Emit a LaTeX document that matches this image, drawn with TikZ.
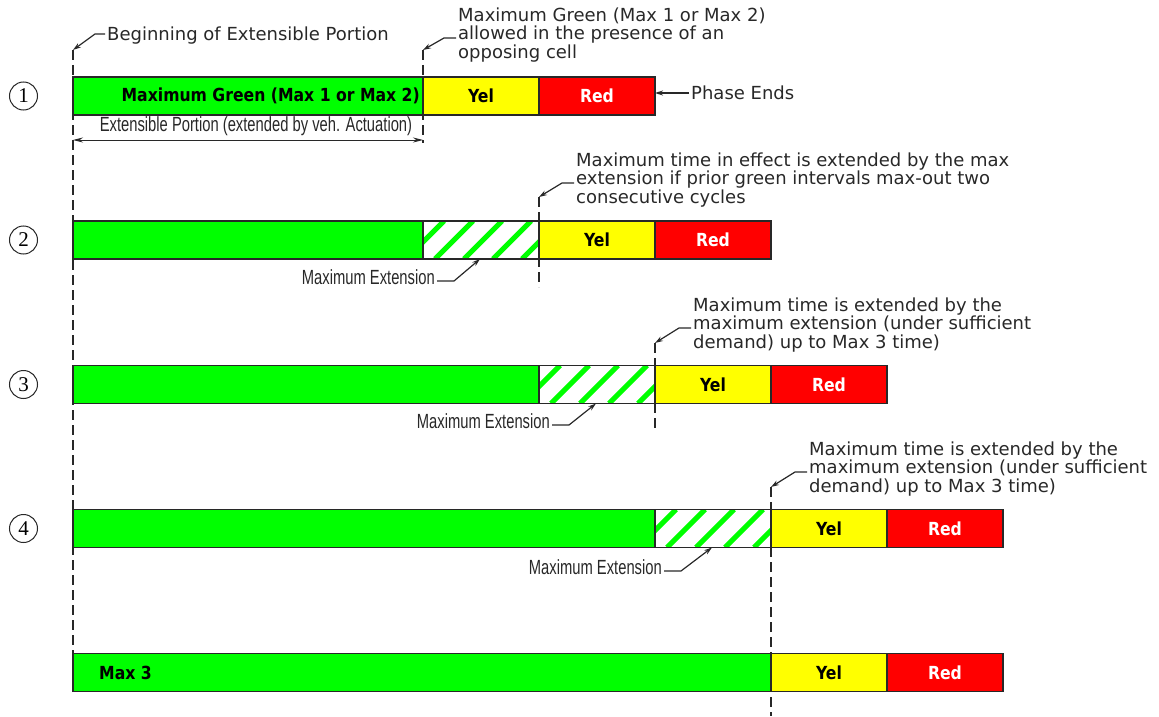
\documentclass[tikz,border=0pt]{standalone}
\usepackage{fontspec}
\usepackage{xcolor}
\usetikzlibrary{arrows.meta,positioning}
\newfontfamily\notefont{DejaVu Sans}
\newfontfamily\barfont{DejaVu Sans}[FakeStretch=0.87]
\newfontfamily\narrowfont{Liberation Sans}[FakeStretch=0.72]
\newfontfamily\numfont{Liberation Serif}
\definecolor{grn}{RGB}{0,255,0}
\definecolor{yel}{RGB}{255,255,0}
\definecolor{rd}{RGB}{255,0,0}
\definecolor{ink}{RGB}{40,40,40}

\begin{document}
\begin{tikzpicture}%
  [x=1pt,y=-1pt,
   seg/.style={rectangle,draw=ink,line width=1.3pt,minimum width=116pt,
     minimum height=38pt,inner sep=0,outer sep=0,anchor=north west,
     font=\barfont\bfseries\fontsize{18}{18}\selectfont}]
  \tikzstyle{grn seg}=[seg,fill=grn]
  \tikzstyle{yel seg}=[seg,fill=yel]
  \tikzstyle{red seg}=[seg,fill=rd,text=white]
  \tikzstyle{ext seg}=[seg,fill=white]
  \tikzstyle{bar txt}=[inner sep=0,font=\barfont\bfseries\fontsize{18}{18}\selectfont]
  \tikzstyle{num node}=[circle,draw=ink,line width=1pt,minimum size=28pt,inner sep=0,
    font=\numfont\fontsize{21}{21}\selectfont]
  \tikzstyle{note}=[text=ink,align=left,inner sep=2pt,font=\notefont\fontsize{18}{18.5}\selectfont]
  \tikzstyle{narrow note}=[text=ink,inner sep=2pt,font=\narrowfont\fontsize{20.5}{20.5}\selectfont]
  \tikzstyle{dash line}=[ink,line width=1.3pt,dash pattern=on 10pt off 5pt]
  \tikzstyle{leader}=[ink,line width=1.2pt,-{Stealth[length=8pt,width=5pt]}]
  \tikzstyle{hatch line}=[grn,line width=5pt]
  \useasboundingbox (0,0) rectangle (1159,717);

  \coordinate (d0) at (73,50);
  \coordinate (d1) at (423,50);
  \coordinate (d1end) at (423,143);
  \coordinate (d2) at (539,197);
  \coordinate (d2end) at (539,287);
  \coordinate (d3) at (655,343);
  \coordinate (d3end) at (655,428);
  \coordinate (d4) at (771,487);
  \coordinate (d4end) at (771,716);
  \draw[dash line] (d1) -- (d1end);
  \draw[dash line] (d2) -- (d2end);
  \draw[dash line] (d3) -- (d3end);
  \draw[dash line] (d4) -- (d4end);

  \node (g1)[grn seg,minimum width=350pt] at (73,77) {};
  \node (y1)[yel seg,right=0pt of g1] {Yel};
  \node (r1)[red seg,right=0pt of y1] {Red};
  \node (c1)[num node,left=35pt of g1] {1};
  \node (g1txt)[bar txt,anchor=east] at ([xshift=-3pt]g1.east) {Maximum Green (Max 1 or Max 2)};

  \foreach \r/\w/\yy in {2/350/221,3/466/365.5,4/582/509.5}{
    \node (g\r)[grn seg,minimum width=\w pt] at (73,\yy) {};
    \node (h\r)[ext seg,right=0pt of g\r] {};
    \begin{scope}
      \clip (h\r.south west) rectangle (h\r.north east);
      \foreach \k in {-1,...,3}
        \draw[hatch line] (h\r.south west) ++(12+29*\k,0) -- ++(38,-38);
    \end{scope}
    \draw[ink,line width=1.3pt] (h\r.south west) rectangle (h\r.north east);
    \node (y\r)[yel seg,right=0pt of h\r] {Yel};
    \node (r\r)[red seg,right=0pt of y\r] {Red};
    \node (c\r)[num node,left=35pt of g\r] {\r};
  }

  \node (g5)[grn seg,minimum width=698pt] at (73,653.5) {};
  \node (y5)[yel seg,right=0pt of g5] {Yel};
  \node (r5)[red seg,right=0pt of y5] {Red};
  \node (g5txt)[bar txt,anchor=west] at ([xshift=26pt]g5.west) {Max 3};
  \draw[dash line] (d0) -- (g5.north west);

  \node (beglbl)[note,anchor=west] at (105,36) {Beginning of Extensible Portion};
  \draw[leader] ([yshift=2pt]beglbl.west) -- ++(-10,0) -- (d0);
  \node (maxgrn)[note,anchor=west] at (456,35)
    {Maximum Green (Max 1 or Max 2)\\allowed in the presence of an\\opposing cell};
  \draw[leader] ([yshift=-3pt]maxgrn.west) -- ++(-12,0) -- (d1);
  \node (phase)[note,anchor=west] at (689,93) {Phase Ends};
  \draw[leader] (phase.west) -- (phase.west -| r1.east);

  \coordinate (ea) at (73,140);
  \coordinate (eb) at (423,140);
  \draw[ink,line width=1pt,{Stealth[length=10pt,width=5pt]}-{Stealth[length=10pt,width=5pt]}] (ea) -- (eb);
  \node (extlbl)[narrow note] at (256,126) {Extensible Portion (extended by veh. Actuation)};

  \node (note2)[note,anchor=west] at (574,180)
    {Maximum time in effect is extended by the max\\extension if prior green intervals max-out two\\consecutive cycles};
  \draw[leader] ([yshift=-3pt]note2.west) -- ++(-12,0) -- (d2);
  \node (note3)[note,anchor=west] at (691,325)
    {Maximum time is extended by the\\maximum extension (under sufficient\\demand) up to Max 3 time)};
  \draw[leader] ([yshift=-3pt]note3.west) -- ++(-12,0) -- (d3);
  \node (note4)[note,anchor=west] at (807,469)
    {Maximum time is extended by the\\maximum extension (under sufficient\\demand) up to Max 3 time)};
  \draw[leader] ([yshift=-3pt]note4.west) -- ++(-12,0) -- (d4);

  \node (mx2)[narrow note,anchor=east] at (437,277) {Maximum Extension};
  \draw[leader] ([yshift=-4pt]mx2.east) -- ++(17,0) -- ([xshift=57pt]h2.south west);
  \node (mx3)[narrow note,anchor=east] at (552,421) {Maximum Extension};
  \draw[leader] ([yshift=-4pt]mx3.east) -- ++(17,0) -- ([xshift=57pt]h3.south west);
  \node (mx4)[narrow note,anchor=east] at (664,567) {Maximum Extension};
  \draw[leader] ([yshift=-4pt]mx4.east) -- ++(17,0) -- ([xshift=57pt]h4.south west);
\end{tikzpicture}
\end{document}
